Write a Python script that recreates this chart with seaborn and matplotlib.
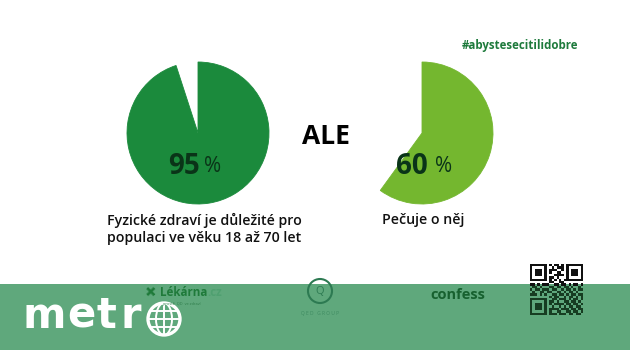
import numpy as np
import pandas as pd
import matplotlib
matplotlib.use("Agg")
import matplotlib.pyplot as plt
import seaborn as sns
from matplotlib.patches import Rectangle, Circle, Ellipse

# ---- data ----
shares = [95, 60]
share_labels = ["95", "60"]
captions = ["Fyzické zdraví je důležité pro\npopulaci ve věku 18 až 70 let", "Pečuje o něj"]
pie_colors = ["#1b8a3c", "#74b72f"]
middle_word = "ALE"
hashtag = "#abystesecitilidobre"

sns.set_theme(style="white")
plt.rcParams['font.family'] = ['Open Sans', 'DejaVu Sans']

W, H = 630, 350
fig = plt.figure(figsize=(W / 100, H / 100), dpi=100)
fig.patch.set_facecolor("white")

def px_axes(x0, y0, w, h):
    """axes from pixel box (top-left origin)"""
    return fig.add_axes([x0 / W, 1 - (y0 + h) / H, w / W, h / H])

# ---- pies ----
centers = [(198, 133), (422, 133)]
R = 71
df = pd.DataFrame({"share": shares, "label": share_labels, "color": pie_colors})
for (cx, cy), row in zip(centers, df.itertuples()):
    ax = px_axes(cx - R, cy - R, 2 * R, 2 * R)
    wedges, _ = ax.pie([row.share, 100 - row.share], colors=[row.color, "none"],
                       startangle=90, counterclock=False, radius=1,
                       wedgeprops=dict(linewidth=0.6, edgecolor=row.color))
    wedges[1].set_edgecolor("none")
    ax.set_xlim(-1, 1)
    ax.set_ylim(-1, 1)
    ax.set_aspect("equal")
    ax.axis("off")

# percentages
num_col = "#0a3418"
fig.text(184 / W, 1 - 166 / H, share_labels[0], ha="center", va="center",
         fontsize=20, fontweight="bold", color=num_col)
fig.text(213 / W, 1 - 167 / H, "%", ha="center", va="center",
         fontsize=15, color=num_col)
fig.text(412 / W, 1 - 166 / H, share_labels[1], ha="center", va="center",
         fontsize=20, fontweight="bold", color=num_col)
fig.text(444 / W, 1 - 167 / H, "%", ha="center", va="center",
         fontsize=15, color=num_col)

# captions
fig.text(107 / W, 1 - 213 / H, captions[0], ha="left", va="top",
         fontsize=10.2, fontweight="semibold", color="#111111", linespacing=1.3)
fig.text(382 / W, 1 - 213 / H, captions[1], ha="left", va="top",
         fontsize=10.2, fontweight="semibold", color="#111111")

# middle word
fig.text(326 / W, 1 - 137 / H, middle_word, ha="center", va="center",
         fontsize=19, fontweight="bold", color="#000000")

# hashtag
fig.text(578 / W, 1 - 46 / H, hashtag, ha="right", va="center",
         fontsize=8.3, fontweight="bold", color="#1e7a3c")

# ---- bottom band ----
band = fig.add_axes([0, 0, 1, 1], zorder=5)
band.set_xlim(0, W)
band.set_ylim(H, 0)
band.axis("off")
band.add_patch(Rectangle((0, 284), W, H - 284, color="#5fa87c", lw=0))

# metro logo
for ch, xc in zip("metr", [44, 81, 106, 131]):
    band.text(xc, 316, ch, ha="center", va="center", fontsize=30,
              fontweight="bold", color="white", family=["DejaVu Sans"])
gx, gy, gr = 164, 319, 16
band.add_patch(Circle((gx, gy), gr, facecolor="none", edgecolor="white", lw=2.4))
band.add_patch(Ellipse((gx, gy), gr, 2 * gr, facecolor="none", edgecolor="white", lw=1.4))
band.plot([gx, gx], [gy - gr, gy + gr], color="white", lw=1.4)
for dy in (-8, 0, 8):
    half = np.sqrt(gr ** 2 - dy ** 2)
    band.plot([gx - half, gx + half], [gy + dy, gy + dy], color="white", lw=1.4)

# Lekarna logo
band.text(152, 292, "✚", ha="center", va="center", fontsize=10, color="#1f7a3a",
          family=["DejaVu Sans"], rotation=45)
t_lek = band.text(160, 293, "Lékárna", ha="left", va="center", fontsize=8.4,
                  fontweight="bold", color="#1f7a3a")
fig.canvas.draw()
bb = t_lek.get_window_extent()
x_end = band.transData.inverted().transform((bb.x1, bb.y0))[0]
band.text(x_end + 0.5, 293, ".cz", ha="left", va="center", fontsize=8.4,
          fontweight="bold", color="#4fa070")
band.text(182, 304, "prostě  QD  ve zdraví", ha="center", va="center", fontsize=2.8,
          color="#2e7d4a")

# QED logo
band.add_patch(Circle((320, 291), 12, facecolor="none", edgecolor="#2d7a52", lw=1.5))
band.text(320, 291, "Q", ha="center", va="center", fontsize=8, color="#2d7a52")
band.text(320, 313, "Q E D   G R O U P", ha="center", va="center", fontsize=3.5,
          color="#3d8a60")

# confess
band.text(458, 295, "confess", ha="center", va="center", fontsize=10.5,
          fontweight="bold", color="#17612f")

# QR code (decorative)
qr = [
    "1111111010110101111111",
    "1000001001011101000001",
    "1011101011100101011101",
    "1011101010011001011101",
    "1011101000111101011101",
    "1000001011010001000001",
    "1111111010101011111111",
    "0000000011001100000000",
    "1101011100110110101101",
    "0110100011011011010010",
    "1011011101100101101011",
    "0100110110011010110100",
    "1110101001101101011011",
    "0000000010110010110101",
    "1111111001101110101101",
    "1000001011010011011010",
    "1011101010111101101101",
    "1011101001001010110110",
    "1011101011110111011011",
    "1000001010011001101101",
    "1111111011101110110110",
]
qx0, qy0 = 530, 264
qw, qh = 53 / 22, 51 / 21
for r_i, line in enumerate(qr):
    for c_i, ch in enumerate(line):
        if ch == "1":
            yy = qy0 + r_i * qh
            col = "#111111" if yy < 284 else "#173d22"
            band.add_patch(Rectangle((qx0 + c_i * qw, yy), qw, qh, color=col, lw=0))

fig.savefig("out.png", dpi=100, facecolor="white")
